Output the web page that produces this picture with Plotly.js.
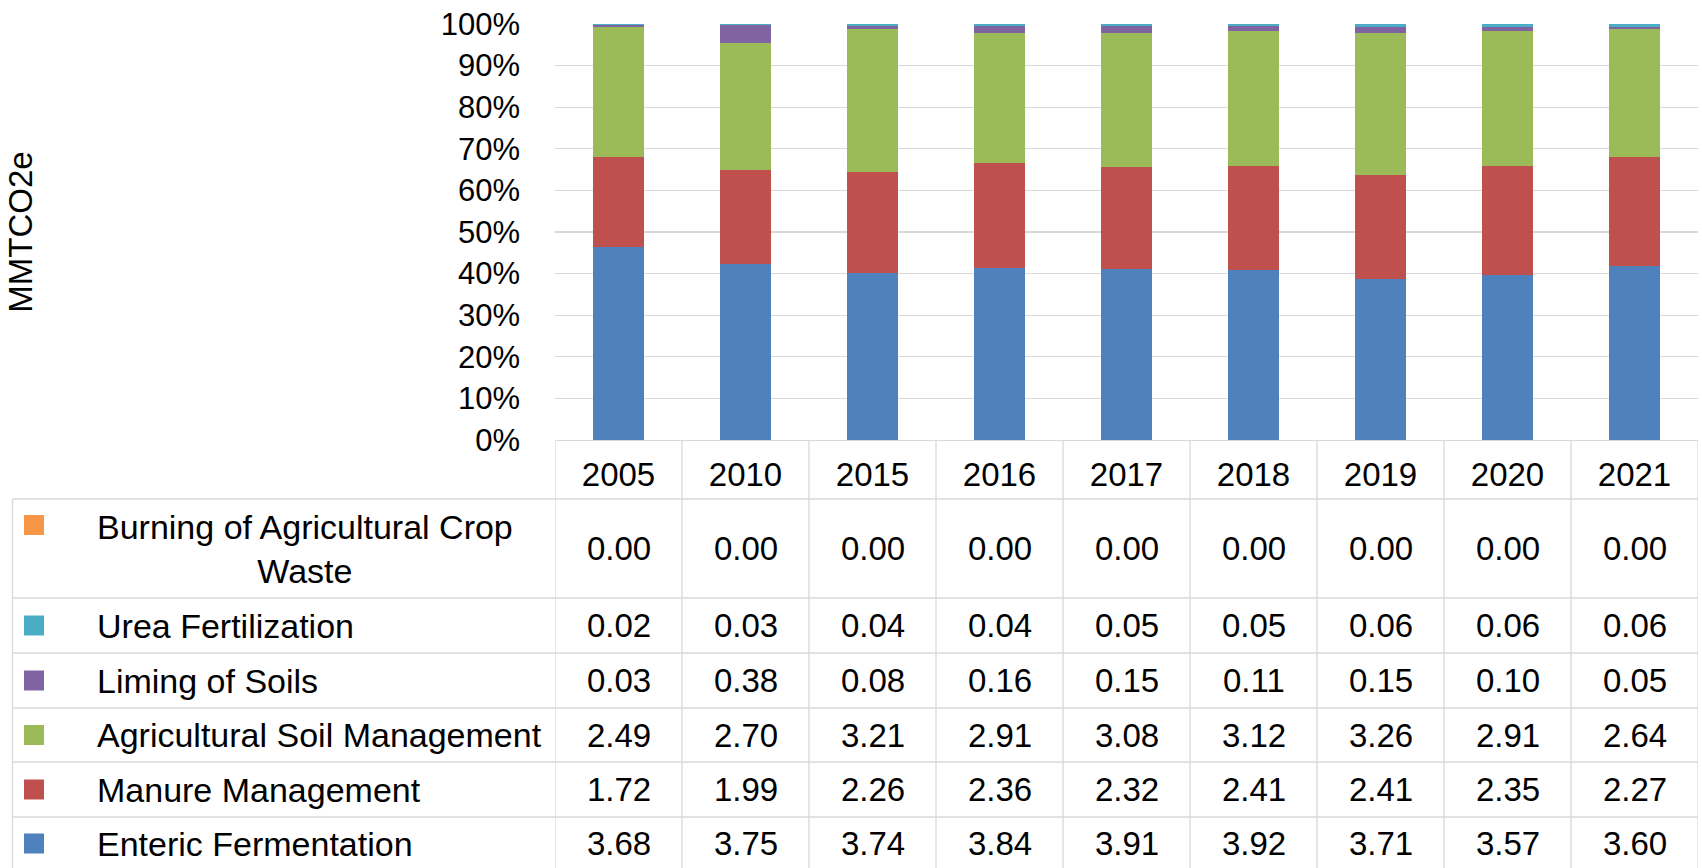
<!DOCTYPE html>
<html>
<head>
<meta charset="utf-8">
<script src="https://cdn.plot.ly/plotly-3.0.1.min.js"></script>
<style>html,body{margin:0;padding:0;background:#fff;}#chart{width:1702px;height:868px;}</style>
</head>
<body>
<div id="chart"></div>
<script>
// ---- data ----
const years = ['2005','2010','2015','2016','2017','2018','2019','2020','2021'];
const enteric  = [3.68, 3.75, 3.74, 3.84, 3.91, 3.92, 3.71, 3.57, 3.60];
const manure   = [1.72, 1.99, 2.26, 2.36, 2.32, 2.41, 2.41, 2.35, 2.27];
const soilMgmt = [2.49, 2.70, 3.21, 2.91, 3.08, 3.12, 3.26, 2.91, 2.64];
const liming   = [0.03, 0.38, 0.08, 0.16, 0.15, 0.11, 0.15, 0.10, 0.05];
const urea     = [0.02, 0.03, 0.04, 0.04, 0.05, 0.05, 0.06, 0.06, 0.06];
const burning  = [0.00, 0.00, 0.00, 0.00, 0.00, 0.00, 0.00, 0.00, 0.00];
const seriesNames = ['Enteric Fermentation','Manure Management','Agricultural Soil Management',
                     'Liming of Soils','Urea Fertilization','Burning of Agricultural Crop Waste'];
const yTitle = 'MMTCO2e';

// ---- styles ----
const seriesValues = [enteric, manure, soilMgmt, liming, urea, burning];
const colors = ['#4F81BD','#C0504D','#9BBB59','#8064A2','#4BACC6','#F79646'];
const FONT = 'Liberation Sans, Arial, sans-serif';
const GRID = '#d9d9d9';

// layout geometry (pixels)
const W = 1702, H = 868;
const ML = 555, MR = 4, MT = 24, MB = 428;
const plotW = W - ML - MR, plotH = H - MT - MB;
const axisY = MT + plotH; // 440
const px2x = px => (px - ML) / plotW;
const py2y = py => (axisY - py) / plotH;

// table rows (top->bottom is reverse of stacking order)
const rowOrder = [5,4,3,2,1,0];
const rowLines = [499, 598, 653, 708, 762, 817];
const rowBottom = 875;
const tableLeft = 12.5;

const traces = seriesValues.map((vals, i) => ({
  type: 'bar', name: seriesNames[i], x: years, y: vals,
  marker: {color: colors[i], line: {width: 0}},
  hoverinfo: 'x+y+name'
}));

const shapes = [];
const annotations = [];
const lineStyle = {color: GRID, width: 1.3};

// horizontal table lines
rowLines.forEach(py => {
  shapes.push({type:'line', xref:'paper', yref:'paper', x0: px2x(tableLeft), x1: 1, y0: py2y(py), y1: py2y(py), line: lineStyle, layer:'above'});
});
// left border of table
shapes.push({type:'line', xref:'paper', yref:'paper', x0: px2x(tableLeft), x1: px2x(tableLeft), y0: py2y(rowLines[0]), y1: py2y(rowBottom), line: lineStyle});
// vertical category lines
for (let k = 0; k <= years.length; k++) {
  shapes.push({type:'line', xref:'x', yref:'paper', x0: k - 0.5, x1: k - 0.5, y0: 0, y1: py2y(rowBottom), line: lineStyle});
}

// rows
rowOrder.forEach((si, r) => {
  const top = rowLines[r];
  const bot = r + 1 < rowLines.length ? rowLines[r+1] : 870;
  const cy = (top + bot) / 2;
  const name = seriesNames[si];
  const multi = name.length > 30;
  const labelText = multi ? name.replace(/ (Waste)$/, '<br>$1') : name;
  const sqCy = multi ? cy - 23.5 : cy;
  shapes.push({type:'rect', xref:'paper', yref:'paper', x0: px2x(24), x1: px2x(44),
               y0: py2y(sqCy - 10), y1: py2y(sqCy + 10), fillcolor: colors[si], line:{width:0}});
  annotations.push({xref:'paper', yref:'paper', x: px2x(95), y: py2y(cy), xanchor:'left', yanchor:'middle',
                    text: labelText, showarrow:false, align: 'center',
                    font:{family: FONT, size: 34, color:'#000'}});
  seriesValues[si].forEach((v, j) => {
    // category index j on the category x axis
    annotations.push({xref:'x', yref:'paper', x: j, y: py2y(cy), xanchor:'center', yanchor:'middle',
                      text: v.toFixed(2), showarrow:false, font:{family: FONT, size: 33, color:'#000'}});
  });
});

const layout = {
  width: W, height: H,
  margin: {l: ML, r: MR, t: MT, b: MB, pad: 0},
  paper_bgcolor: '#fff', plot_bgcolor: '#fff',
  barmode: 'stack', barnorm: 'percent', bargap: 0.606,
  showlegend: false,
  font: {family: FONT, color: '#000'},
  xaxis: {
    type: 'category', range: [-0.5, years.length - 0.5], autorange: false,
    showgrid: false, zeroline: false, showline: true, linecolor: GRID, linewidth: 1.3,
    ticks: '', tickfont: {family: FONT, size: 33, color: '#000'}, ticklabelstandoff: 5
  },
  yaxis: {
    range: [0, 100], autorange: false, dtick: 10, ticksuffix: '%', showgrid: true, gridcolor: GRID, gridwidth: 1.3,
    zeroline: false, showline: false, ticks: '', tickfont: {family: FONT, size: 31, color: '#000'},
    ticklabelstandoff: 34,
    title: {text: yTitle, font: {family: FONT, size: 33, color: '#000'}, standoff: 398}
  },
  shapes: shapes,
  annotations: annotations
};

Plotly.newPlot('chart', traces, layout, {displayModeBar: false, staticPlot: true});
</script>
</body>
</html>
